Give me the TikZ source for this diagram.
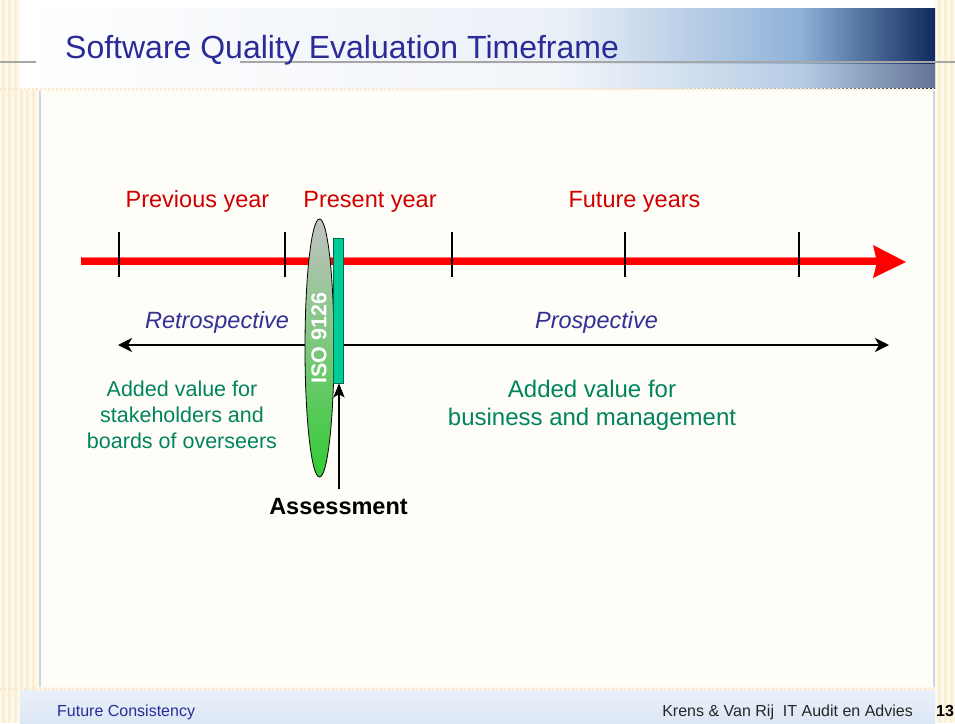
\documentclass[tikz,border=0pt]{standalone}
\usepackage{fontspec}
\setmainfont{Liberation Sans}
\usetikzlibrary{shapes.geometric,arrows.meta}
\definecolor{pagebg}{HTML}{FDF8EA}
\definecolor{stripeA}{HTML}{F9EFD2}
\definecolor{panelbg}{HTML}{FFFDF8}
\definecolor{paneledge}{HTML}{CBD6E6}
\definecolor{titleblue}{HTML}{2B2B98}
\definecolor{labred}{HTML}{D00000}
\definecolor{navyi}{HTML}{303096}
\definecolor{valgreen}{HTML}{00845E}
\definecolor{barteal}{HTML}{00CC99}
\definecolor{bardark}{HTML}{00664A}
\definecolor{isogray}{HTML}{C2C2C2}
\definecolor{isogreen}{HTML}{33CC33}
\definecolor{skylight}{HTML}{EAF0F7}
\definecolor{skymid}{HTML}{8FB2D8}
\definecolor{skydark}{HTML}{0E2A5E}
\definecolor{footblue}{HTML}{DCE7F5}
\begin{document}
\begin{tikzpicture}[x=1pt,y=-1pt,
  yearlbl/.style={text=labred,font=\fontsize{23.5}{28}\selectfont,anchor=base,inner sep=0},
  dirlbl/.style={text=navyi,font=\fontsize{23.5}{28}\selectfont\itshape,anchor=base,inner sep=0},
  valuelbl/.style={text=valgreen,align=center,anchor=north,inner sep=0},
  tickmark/.style={line width=2pt,black},
  spanarrow/.style={line width=2.4pt,{Stealth[length=14pt,width=14pt,inset=4pt]}-{Stealth[length=14pt,width=14pt,inset=4pt]}},
  footlbl/.style={font=\fontsize{16}{18}\selectfont,anchor=base,inner sep=0}]
\useasboundingbox (0,0) rectangle (955,723);
% page background and side stripes
\fill[pagebg] (0,0) rectangle (955,723);
\foreach \sx in {2,8,14,20,26,32}{\fill[stripeA] (\sx,0) rectangle (\sx+3,723);}
\foreach \sx in {938,944,950}{\fill[stripeA] (\sx,0) rectangle (\sx+3,723);}
% title band
\fill[white] (20,0) rectangle (935,88);
\shade[left color=white,right color=skylight] (20,8) rectangle (560,88);
\shade[left color=skylight,right color=skymid] (560,8) rectangle (800,88);
\shade[left color=skymid,right color=skydark] (800,8) rectangle (935,88);
\fill[white,opacity=0.35] (20,64) rectangle (935,88);
\draw[gray!70,line width=1.5pt] (0,62) -- (36,62);
\draw[gray!70,line width=1.5pt] (240,62) -- (955,62);
\draw[stripeA!80!orange!60,line width=2pt,dash pattern=on 2pt off 2pt] (0,89) -- (935,89);
% content panel
\fill[panelbg] (40,91) rectangle (934,687);
\draw[paneledge,line width=1.5pt] (40,91) -- (40,687);
\draw[paneledge,line width=1.5pt] (934,91) -- (934,687);
% footer band
\shade[top color=footblue!60,bottom color=footblue] (20,690) rectangle (935,723);
\draw[stripeA!80!orange!60,line width=2pt,dash pattern=on 2pt off 2pt] (0,689) -- (935,689);
% title
\node[anchor=base west,inner sep=0,text=titleblue,font=\fontsize{32}{36}\selectfont] (title) at (65,58) {Software Quality Evaluation Timeframe};
% timeline
\coordinate (tstart) at (81,261);
\coordinate (tend) at (878,261);
\draw[red,line width=8pt] (tstart) -- (tend);
\draw[red!55!white,line width=1.2pt] (82,257.5) -- (876,257.5);
\fill[red] (873,245) -- (906,262) -- (873,278) -- (877,262) -- cycle;
\foreach \tx/\tn in {119/ta,285/tb,452/tc,625/td,799/te}{
  \coordinate (\tn top) at (\tx,232);
  \coordinate (\tn bot) at (\tx,277);
  \draw[tickmark] (\tn top) -- (\tn bot);}
% year labels
\node[yearlbl] (prev) at (197.5,207) {Previous year};
\node[yearlbl] (pres) at (370,207) {Present year};
\node[yearlbl] (fut) at (634.5,207) {Future years};
% retrospective / prospective span
\coordinate (retroend) at (118,345);
\coordinate (prospend) at (889,345);
\draw[spanarrow] (retroend) -- (prospend);
\node[dirlbl] (retro) at (217,328) {Retrospective};
\node[dirlbl] (prosp) at (596.5,328) {Prospective};
% ISO ellipse
\node[ellipse,draw=black,line width=0.8pt,top color=isogray,bottom color=isogreen,
      minimum width=29pt,minimum height=258pt,inner sep=0] (iso) at (319.5,348) {};
\node[rotate=90,text=white,font=\bfseries\fontsize{21.5}{24}\selectfont,inner sep=0] (isotext) at (319,338) {ISO 9126};
% assessment bar
\node[rectangle,fill=barteal,draw=bardark,line width=0.6pt,minimum width=10.5pt,minimum height=145pt,inner sep=0] (bar) at (338.5,310.5) {};
\coordinate (asstail) at (339,489);
\draw[line width=2pt,-{Stealth[length=14pt,width=11pt,inset=3pt]}] (asstail) -- (asstail |- bar.south);
\node[anchor=base,inner sep=0,font=\bfseries\fontsize{23.5}{28}\selectfont] (assess) at (338.5,514) {Assessment};
% added value texts
\node[valuelbl,font=\fontsize{21.5}{26}\selectfont] (valleft) at (182,381) {Added value for\\stakeholders and\\boards of overseers};
\node[valuelbl,font=\fontsize{24}{28}\selectfont] (valright) at (592,379.5) {Added value for\\business and management};
% footer
\node[footlbl,anchor=base west,text=titleblue] (footl) at (57,716) {Future Consistency};
\node[footlbl,anchor=base east,text=black!85] (footr) at (913,716) {Krens \& Van Rij\ \ IT Audit en Advies};
\node[footlbl,anchor=base west,font=\bfseries\fontsize{16}{18}\selectfont] (pagenum) at (936,716) {13};
\end{tikzpicture}
\end{document}
